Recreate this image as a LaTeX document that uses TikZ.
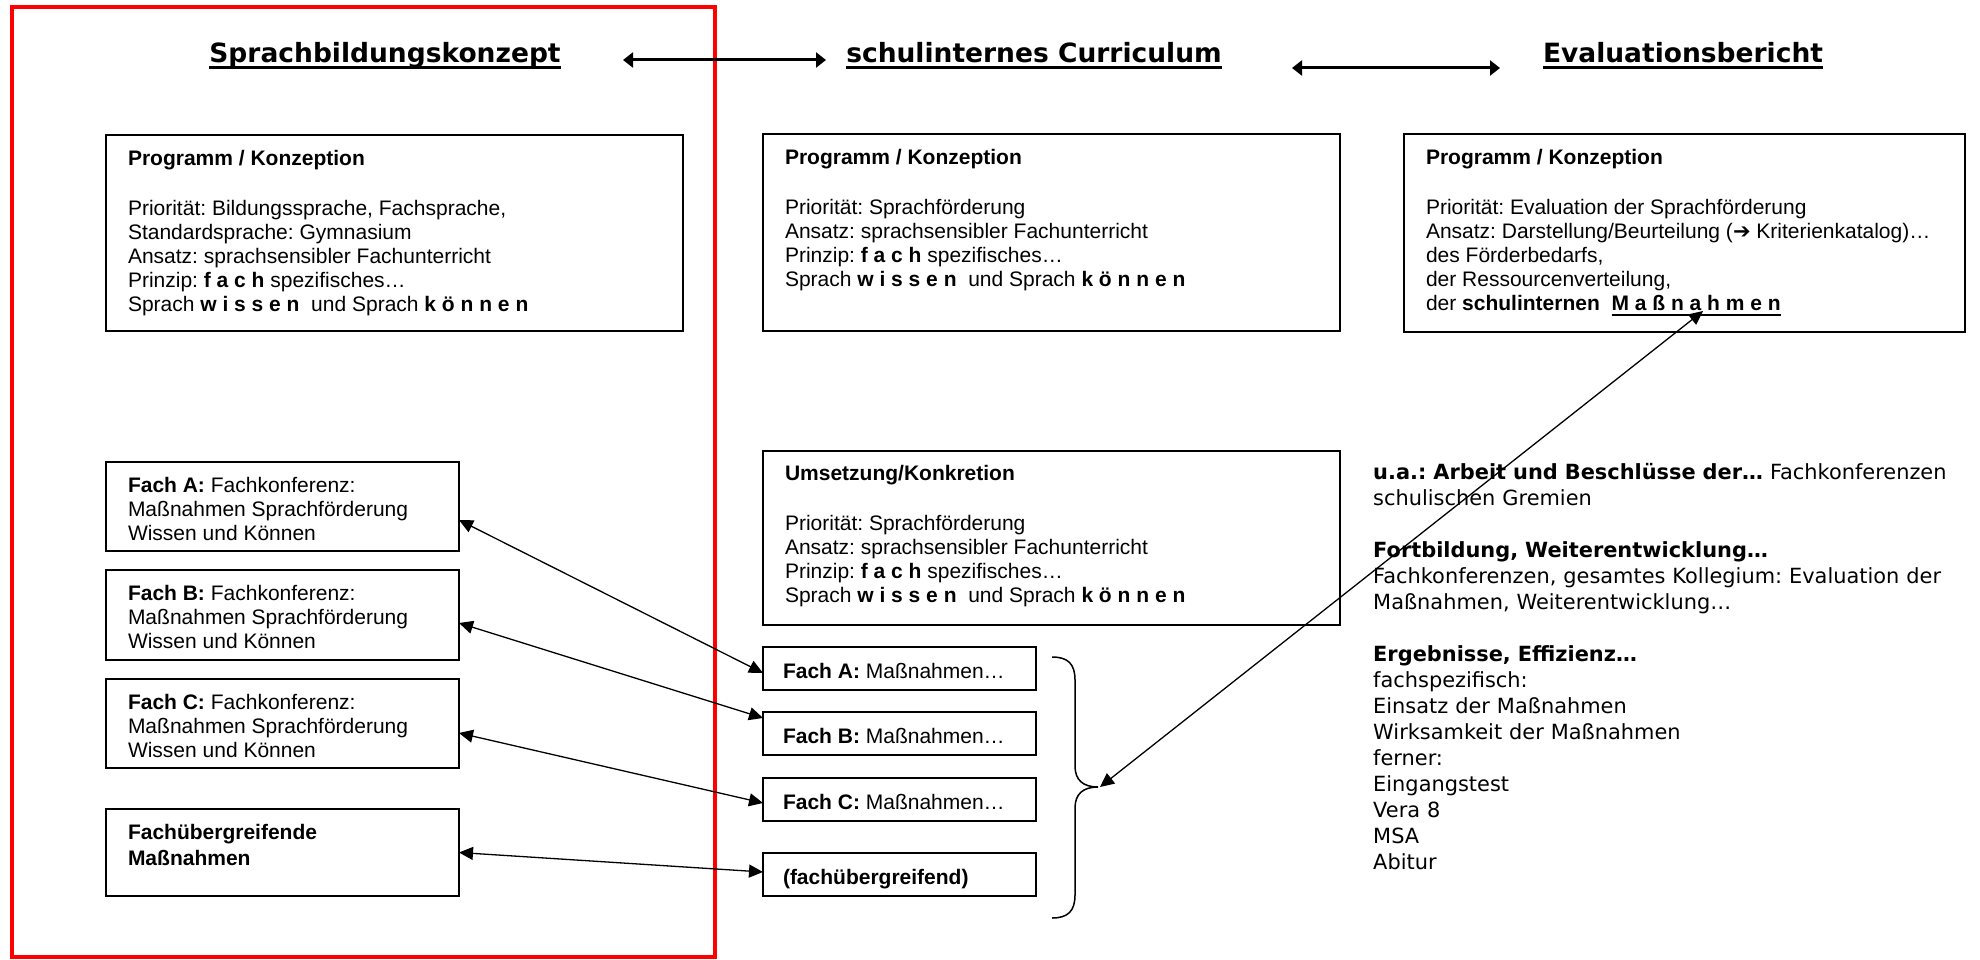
\documentclass[tikz,border=0pt]{standalone}
\usepackage{fontspec}
\setmainfont{Liberation Sans}
\newfontfamily\vfont{DejaVu Sans}
\usetikzlibrary{arrows.meta}
\frenchspacing
\newcommand\thul[3]{\setbox0=\hbox{#3}\leavevmode\rlap{\rule[-#1]{\wd0}{#2}}\box0}
\newcommand\bx[4]{\parbox[c][#2][t]{#1}{\frenchspacing\raggedright\rule{0pt}{#3}#4}}
\begin{document}
\begin{tikzpicture}[x=1pt,y=-1pt,
  frame/.style={draw, line width=1.5pt, inner xsep=22pt, inner ysep=0pt, outer sep=0pt, anchor=north west, font=\fontsize{21}{24}\selectfont},
  small/.style={frame, inner xsep=20pt},
  title/.style={anchor=base, inner sep=0pt, font=\vfont\bfseries\fontsize{26.5}{30}\selectfont},
  plain/.style={anchor=north west, inner sep=0pt, align=left, text width=600pt, font=\vfont\frenchspacing\fontsize{20.9}{26}\selectfont},
  link/.style={line width=1.3pt, {Triangle[length=14pt,width=13pt]}-{Triangle[length=14pt,width=13pt]}},
  toparrow/.style={line width=3pt, {Triangle[length=10pt,width=15pt]}-{Triangle[length=10pt,width=15pt]}}
]
\useasboundingbox (0,0) rectangle (1980,960);
\fill[white] (0,0) rectangle (1980,960);

% red frame
\draw[red, line width=4pt] (12,7) rectangle (715,957);

% titles
\node[title] (t1) at (385,63) {\thul{6pt}{3pt}{Sprachbildungskonzept}};
\node[title] (t2) at (1034,63) {\thul{6pt}{3pt}{schulinternes Curriculum}};
\node[title] (t3) at (1683,63) {\thul{6pt}{3pt}{Evaluationsbericht}};
\coordinate (a1s) at (623,60);
\coordinate (a1e) at (826,60);
\coordinate (a2s) at (1292,68);
\coordinate (a2e) at (1500,68);
\draw[toparrow] (a1s) -- (a1e);
\draw[toparrow] (a2s) -- (a2e);

% top boxes
\node[frame] (p1) at (106,135) {\bx{533pt}{196pt}{30.5pt}{%
\textbf{Programm / Konzeption}\\[26pt]
Priorität: Bildungssprache, Fachsprache,\\
Standardsprache: Gymnasium\\
Ansatz: sprachsensibler Fachunterricht\\
Prinzip: \textbf{f a c h} spezifisches…\\
Sprach \textbf{w i s s e n}\ \ und Sprach \textbf{k ö n n e n}}};

\node[frame] (p2) at (763,134) {\bx{533pt}{197pt}{30.5pt}{%
\textbf{Programm / Konzeption}\\[26pt]
Priorität: Sprachförderung\\
Ansatz: sprachsensibler Fachunterricht\\
Prinzip: \textbf{f a c h} spezifisches…\\
Sprach \textbf{w i s s e n}\ \ und Sprach \textbf{k ö n n e n}}};

\node[frame] (p3) at (1404,134) {\bx{517pt}{198pt}{30.5pt}{%
\textbf{Programm / Konzeption}\\[26pt]
Priorität: Evaluation der Sprachförderung\\
\mbox{Ansatz: Darstellung/Beurteilung ({\vfont\bfseries ➔} Kriterienkatalog)…}\\
des Förderbedarfs,\\
der Ressourcenverteilung,\\
der \textbf{schulinternen}\ \ \textbf{\thul{5pt}{2pt}{M a ß n a h m e n}}}};

\node[frame] (u2) at (763,451) {\bx{533pt}{174pt}{29.5pt}{%
\textbf{Umsetzung/Konkretion}\\[26pt]
Priorität: Sprachförderung\\
Ansatz: sprachsensibler Fachunterricht\\
Prinzip: \textbf{f a c h} spezifisches…\\
Sprach \textbf{w i s s e n}\ \ und Sprach \textbf{k ö n n e n}}};

% left subject boxes
\node[frame] (fa) at (106,462) {\bx{309pt}{89pt}{30.5pt}{%
\textbf{Fach A:} Fachkonferenz:\\ Maßnahmen Sprachförderung\\ Wissen und Können}};
\node[frame] (fb) at (106,570) {\bx{309pt}{90pt}{30.5pt}{%
\textbf{Fach B:} Fachkonferenz:\\ Maßnahmen Sprachförderung\\ Wissen und Können}};
\node[frame] (fc) at (106,679) {\bx{309pt}{89pt}{30.5pt}{%
\textbf{Fach C:} Fachkonferenz:\\ Maßnahmen Sprachförderung\\ Wissen und Können}};
\node[frame] (ff) at (106,809) {\bx{309pt}{87pt}{30.5pt}{%
\textbf{Fachübergreifende}\\[2pt] \textbf{Maßnahmen}}};

% middle small boxes
\node[small] (sa) at (763,647) {\bx{233pt}{43pt}{31pt}{\textbf{Fach A:} Maßnahmen…}};
\node[small] (sb) at (763,712) {\bx{233pt}{43pt}{31pt}{\textbf{Fach B:} Maßnahmen…}};
\node[small] (sc) at (763,778) {\bx{233pt}{43pt}{31pt}{\textbf{Fach C:} Maßnahmen…}};
\node[small] (sf) at (763,853) {\bx{233pt}{43pt}{31pt}{\textbf{(fachübergreifend)}}};

% connectors left <-> middle
\draw[link] ([yshift=-13.5pt]fa.east) -- ([yshift=-4.5pt]sa.west);
\draw[link] ([yshift=-8pt]fb.east) -- ([yshift=15.5pt]sb.west);
\draw[link] ([yshift=-9.5pt]fc.east) -- ([yshift=-3.5pt]sc.west);
\draw[link] (ff.east) -- ([yshift=2.5pt]sf.west);

% brace
\draw[line width=1.5pt] (1052,657) .. controls (1068,657) and (1075,664) .. (1075,680)
  -- (1075,766) .. controls (1075,780) and (1083,787) .. (1098,787)
  .. controls (1083,787) and (1075,794) .. (1075,808)
  -- (1075,895) .. controls (1075,911) and (1068,918) .. (1052,918);
\coordinate (bt) at (1100,787);
\coordinate (mt) at (1703,311);
\draw[link] (bt) -- (mt);

% right text block
\node[plain] (rt) at (1373,459) {\rule{0pt}{20pt}\textbf{u.a.: Arbeit und Beschlüsse der…} Fachkonferenzen\\
schulischen Gremien\\[26pt]
\textbf{Fortbildung, Weiterentwicklung…}\\
Fachkonferenzen, gesamtes Kollegium: Evaluation der\\
Maßnahmen, Weiterentwicklung…\\[26pt]
\textbf{Ergebnisse, Effizienz…}\\
fachspezifisch:\\
Einsatz der Maßnahmen\\
Wirksamkeit der Maßnahmen\\
ferner:\\
Eingangstest\\
Vera 8\\
MSA\\
Abitur};
\end{tikzpicture}
\end{document}
